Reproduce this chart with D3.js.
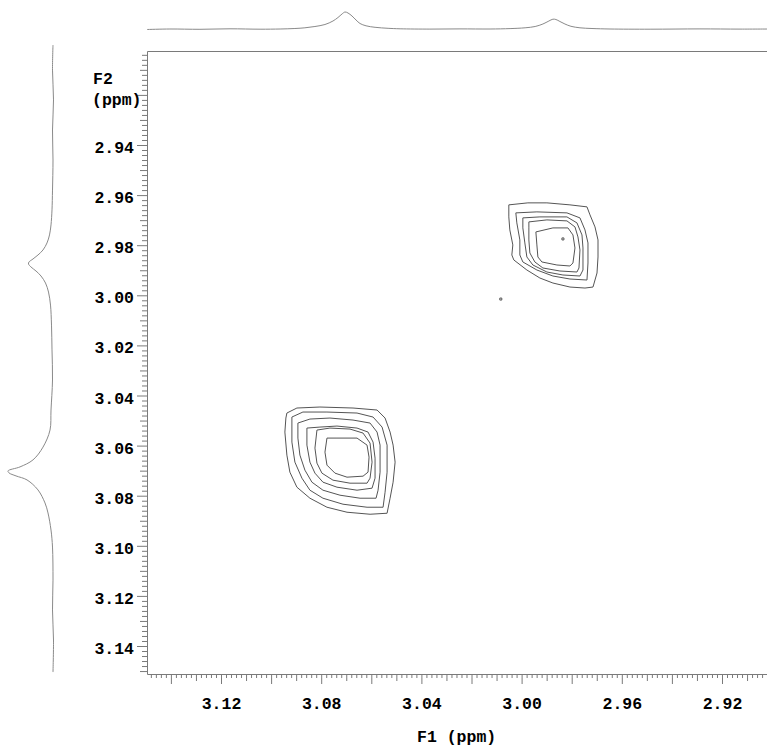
<!DOCTYPE html>
<html><head><meta charset="utf-8">
<script src="https://cdn.jsdelivr.net/npm/d3@7"></script>
<style>html,body{margin:0;padding:0;background:#fff}svg{display:block}</style>
</head><body>
<svg id="chart" width="767" height="746"></svg>
<script>
// ---------- data (ppm) ----------
const xTickLabels = ["3.12","3.08","3.04","3.00","2.96","2.92"];
const yTickLabels = ["2.94","2.96","2.98","3.00","3.02","3.04","3.06","3.08","3.10","3.12","3.14"];

// F1 projection (top trace): ppm, intensity
const topSpecPpm = [3.1495,3.1404,3.1284,3.1164,3.1044,3.0964,3.0905,3.0865,3.0825,3.0785,3.0753,3.0733,3.0717,3.0705,3.0693,3.0677,3.0661,3.0645,3.0621,3.0585,3.0533,3.0485,3.0366,3.0246,3.0126,3.0046,2.9986,2.9946,2.9915,2.9891,2.9875,2.9863,2.9847,2.9827,2.9803,2.9767,2.9719,2.9647,2.9487,2.9288,2.9128,2.9000];
const topSpecInt = [-0.5,0,-0.3,0.2,-0.2,0,0.5,1.2,2.5,4.5,8,11.5,15,17,16,13,9,5.5,3.2,1.7,0.7,0.2,-0.1,0.1,0,0.4,1.2,2.5,5,8,9.8,9.5,7.5,5,2.7,1.2,0.5,0,-0.2,0.1,-0.1,0];

// F2 projection (left trace): ppm, intensity
const leftSpecPpm = [2.9001,2.9101,2.9220,2.9340,2.9460,2.9580,2.9659,2.9719,2.9759,2.9791,2.9819,2.9839,2.9855,2.9867,2.9875,2.9887,2.9903,2.9923,2.9951,2.9987,3.0039,3.0119,3.0218,3.0338,3.0458,3.0538,3.0606,3.0657,3.0685,3.0701,3.0709,3.0721,3.0737,3.0777,3.0829,3.0869,3.0937,3.1005,3.1137,3.1256,3.1376,3.1504];
const leftSpecInt = [0,0.5,-0.5,0.5,0,0.5,1,2,3.5,6,10,15,20,24,24.5,22,17,12,7.5,4.5,2.5,1.5,1,0.5,2,3,10,20,33,45,44,37,26,15,8,5,2,0.5,0,0.5,-0.5,0];

// cross peak near (F1 2.987, F2 2.981): contour rings [F1, F2], outer to inner
const peakUpperRings = [
 [[3.0051,2.9639],[2.9975,2.9631],[2.9899,2.9631],[2.9807,2.9639],[2.9739,2.9647],[2.9727,2.9679],[2.9707,2.9727],[2.9695,2.9779],[2.9695,2.9847],[2.9699,2.9911],[2.9715,2.9967],[2.9747,2.9971],[2.9807,2.9967],[2.9875,2.9951],[2.9927,2.9931],[2.9979,2.9899],[3.0031,2.9859],[3.0039,2.9839],[3.0035,2.9799],[3.0047,2.9739],[3.0051,2.9687]],
 [[3.0023,2.9671],[2.9939,2.9667],[2.9819,2.9671],[2.9767,2.9691],[2.9747,2.9739],[2.9735,2.9791],[2.9735,2.9871],[2.9739,2.9939],[2.9807,2.9935],[2.9875,2.9923],[2.9939,2.9899],[2.9995,2.9867],[3.0007,2.9839],[3.0007,2.9779],[3.0019,2.9711]],
 [[2.9995,2.9691],[2.9927,2.9687],[2.9819,2.9687],[2.9779,2.9711],[2.9759,2.9759],[2.9755,2.9811],[2.9755,2.9899],[2.9767,2.9923],[2.9835,2.9919],[2.9899,2.9907],[2.9955,2.9879],[2.9979,2.9847],[2.9987,2.9791],[2.9995,2.9731]],
 [[2.9971,2.9707],[2.9899,2.9699],[2.9819,2.9703],[2.9787,2.9727],[2.9775,2.9767],[2.9767,2.9819],[2.9771,2.9891],[2.9779,2.9907],[2.9847,2.9903],[2.9915,2.9891],[2.9947,2.9867],[2.9967,2.9831],[2.9971,2.9779],[2.9971,2.9731]],
 [[2.9943,2.9747],[2.9875,2.9731],[2.9815,2.9731],[2.9795,2.9759],[2.9787,2.9811],[2.9795,2.9871],[2.9807,2.9883],[2.9859,2.9879],[2.9919,2.9867],[2.9935,2.9847],[2.9939,2.9799]],
 [[2.9839,2.9771],[2.9831,2.9771],[2.9831,2.9779],[2.9839,2.9779]],
 [[3.0087,3.0011],[3.0079,3.0011],[3.0079,3.0019],[3.0087,3.0019]]
];

// cross peak near (F1 3.072, F2 3.066): contour rings [F1, F2], outer to inner
const peakLowerRings = [
 [[3.0937,3.0470],[3.0897,3.0450],[3.0805,3.0446],[3.0673,3.0450],[3.0577,3.0458],[3.0545,3.0490],[3.0525,3.0546],[3.0513,3.0598],[3.0505,3.0666],[3.0513,3.0746],[3.0525,3.0810],[3.0537,3.0870],[3.0605,3.0874],[3.0697,3.0866],[3.0777,3.0846],[3.0845,3.0810],[3.0897,3.0766],[3.0925,3.0706],[3.0937,3.0638],[3.0945,3.0546],[3.0941,3.0490]],
 [[3.0917,3.0486],[3.0873,3.0466],[3.0777,3.0466],[3.0657,3.0470],[3.0593,3.0486],[3.0557,3.0526],[3.0537,3.0598],[3.0537,3.0706],[3.0545,3.0786],[3.0553,3.0846],[3.0617,3.0846],[3.0713,3.0834],[3.0793,3.0810],[3.0845,3.0778],[3.0877,3.0730],[3.0905,3.0666],[3.0917,3.0586]],
 [[3.0893,3.0510],[3.0845,3.0494],[3.0765,3.0490],[3.0673,3.0498],[3.0605,3.0510],[3.0577,3.0546],[3.0565,3.0598],[3.0565,3.0706],[3.0573,3.0778],[3.0581,3.0810],[3.0645,3.0810],[3.0725,3.0798],[3.0793,3.0778],[3.0837,3.0746],[3.0865,3.0698],[3.0885,3.0638],[3.0893,3.0570]],
 [[3.0857,3.0530],[3.0805,3.0526],[3.0737,3.0522],[3.0657,3.0530],[3.0613,3.0546],[3.0593,3.0586],[3.0585,3.0650],[3.0585,3.0730],[3.0597,3.0770],[3.0657,3.0778],[3.0737,3.0766],[3.0793,3.0746],[3.0825,3.0710],[3.0845,3.0666],[3.0857,3.0598]],
 [[3.0817,3.0538],[3.0765,3.0530],[3.0685,3.0534],[3.0633,3.0550],[3.0605,3.0590],[3.0597,3.0666],[3.0605,3.0730],[3.0617,3.0750],[3.0685,3.0750],[3.0753,3.0738],[3.0797,3.0710],[3.0817,3.0670],[3.0825,3.0610]],
 [[3.0777,3.0570],[3.0737,3.0570],[3.0657,3.0570],[3.0617,3.0598],[3.0609,3.0646],[3.0613,3.0706],[3.0633,3.0722],[3.0697,3.0726],[3.0745,3.0710],[3.0777,3.0678],[3.0785,3.0626]]
];

// plotted window (ppm)
const F1_LEFT = 3.1495, F1_RIGHT = 2.900;
const F2_TOP = 2.9023, F2_BOTTOM = 3.151;

// ---------- drawing ----------
const svg = d3.select("#chart");
svg.append("rect").attr("width",767).attr("height",746).attr("fill","#fff");

const x = d3.scaleLinear().domain([3.12, 2.92]).range([221, 722]);
const y = d3.scaleLinear().domain([2.94, 3.14]).range([145, 646]);
const topI = d3.scaleLinear().domain([0, 17]).range([29, 12]);
const leftI = d3.scaleLinear().domain([0, 45]).range([53, 8]);

const axisColor = "#7a7a7a";
const fontFam = "'Liberation Mono','Courier New',monospace";
const fontSize = 16.5;

// tick sets (every 0.002 ppm; 0.01 medium; 0.02 major)
const xIdx = d3.range(Math.ceil(F1_RIGHT*500), Math.floor(F1_LEFT*500)+1);
const yIdx = d3.range(Math.ceil(F2_TOP*500), Math.floor(F2_BOTTOM*500)+1);
const sel = (arr, f) => arr.filter(f).map(i => i/500);
const xMinor = sel(xIdx, i => i%5 !== 0), xMed = sel(xIdx, i => i%5===0 && i%10!==0), xMaj = sel(xIdx, i => i%10===0);
const yMinor = sel(yIdx, i => i%5 !== 0), yMed = sel(yIdx, i => i%5===0 && i%10!==0), yMaj = sel(yIdx, i => i%10===0);

const x0 = x(F1_LEFT), x1 = x(F1_RIGHT), yT = y(F2_TOP), yB = y(F2_BOTTOM);

function styleAxis(g){ g.attr("color", axisColor).select(".domain").remove(); g.selectAll("line").attr("stroke-width",1); }

// bottom axis
const gx = svg.append("g").attr("transform", `translate(0,${Math.round(yB)})`);
[[xMinor,4],[xMed,7],[xMaj,10]].forEach(([vals,len]) => {
  gx.append("g").call(d3.axisBottom(x).tickValues(vals).tickSize(len).tickFormat("")).call(styleAxis);
});
const gxl = gx.append("g").call(d3.axisBottom(x).tickValues(xTickLabels.map(Number)).tickSize(0).tickFormat((d,i)=>xTickLabels[i])).call(styleAxis);
gxl.selectAll("text").attr("y", 35).attr("dy", null).attr("fill","#000")
   .attr("font-family", fontFam).attr("font-size", fontSize).attr("font-weight","bold");

// left axis
const gy = svg.append("g").attr("transform", `translate(${Math.round(x0)},0)`);
[[yMinor,5],[yMed,7],[yMaj,10]].forEach(([vals,len]) => {
  gy.append("g").call(d3.axisLeft(y).tickValues(vals).tickSize(len).tickFormat("")).call(styleAxis);
});
const gyl = gy.append("g").call(d3.axisLeft(y).tickValues(yTickLabels.map(Number)).tickSize(0).tickFormat((d,i)=>yTickLabels[i])).call(styleAxis);
gyl.selectAll("text").attr("x", -13).attr("y", 7.5).attr("dy", null).attr("fill","#000")
   .attr("font-family", fontFam).attr("font-size", fontSize).attr("font-weight","bold");

// frame: left, top, bottom
const fr = (v)=>Math.round(v)+0.5;
svg.append("path")
  .attr("d", `M${fr(x1)},${fr(yT)}H${fr(x0)}V${fr(yB)}H${fr(x1)}`)
  .attr("fill","none").attr("stroke",axisColor).attr("stroke-width",1);

// axis titles
svg.append("text").attr("x",93).attr("y",84).text("F2")
  .attr("font-family",fontFam).attr("font-size",fontSize).attr("font-weight","bold");
svg.append("text").attr("x",92).attr("y",105).text("(ppm)")
  .attr("font-family",fontFam).attr("font-size",fontSize).attr("font-weight","bold");
svg.append("text").attr("x",417).attr("y",742).text("F1 (ppm)")
  .attr("font-family",fontFam).attr("font-size",fontSize).attr("font-weight","bold");

// projections
const topData = topSpecPpm.map((p,i)=>[p, topSpecInt[i]]);
const leftData = leftSpecPpm.map((p,i)=>[p, leftSpecInt[i]]);
svg.append("path").datum(topData)
  .attr("d", d3.line().x(d=>x(d[0])).y(d=>topI(d[1])).curve(d3.curveCatmullRom.alpha(0.5)))
  .attr("fill","none").attr("stroke","#8a8a8a").attr("stroke-width",1);
svg.append("path").datum(leftData)
  .attr("d", d3.line().x(d=>leftI(d[1])).y(d=>y(d[0])).curve(d3.curveCatmullRom.alpha(0.5)))
  .attr("fill","none").attr("stroke","#8a8a8a").attr("stroke-width",1);

// contours
const ringLine = d3.line().x(d=>x(d[0])).y(d=>y(d[1])).curve(d3.curveLinearClosed);
svg.append("g").selectAll("path").data(peakUpperRings.concat(peakLowerRings)).join("path")
  .attr("d", ringLine).attr("fill","none").attr("stroke","#555").attr("stroke-width",1);
</script>
</body></html>
